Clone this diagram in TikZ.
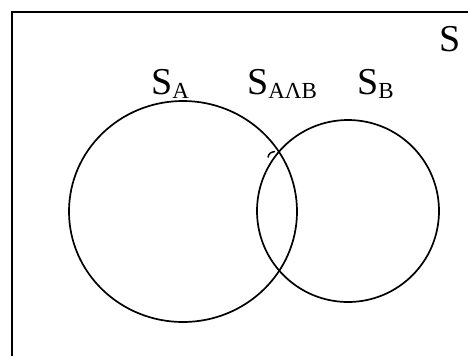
\documentclass[tikz,border=0pt]{standalone}
\usepackage{fontspec}
\setmainfont{Liberation Serif}
\begin{document}
\begin{tikzpicture}[x=1pt,y=-1pt,
  setline/.style={line width=1.7pt,black},
  lbl/.style={inner sep=0pt,anchor=base west,font=\fontsize{38}{42}\selectfont}]
\useasboundingbox (0,0) rectangle (468,356);
% universe frame (runs off the picture at right and bottom)
\draw[line width=2pt] (11.5,356) -- (11.5,11.5) -- (468,11.5);
% sets
\draw[setline] (183,211.5) ellipse [x radius=114, y radius=110.5];
\draw[setline] (348,211) ellipse [x radius=91, y radius=91];
% small hook at the upper crossing
\draw[line width=1.5pt] (268,157.5) .. controls (268.5,153.5) and (271,152) .. (275,151.5);
% labels
\node[lbl] (S) at (439,51) {S};
\node[lbl] (SA) at (151,94) {S\raisebox{-4pt}{\fontsize{23}{25}\selectfont A}};
\node[lbl] (SAB) at (247,94) {S\raisebox{-4pt}{\fontsize{23}{25}\selectfont AΛB}};
\node[lbl] (SB) at (357,94) {S\raisebox{-4pt}{\fontsize{23}{25}\selectfont B}};
\end{tikzpicture}
\end{document}
